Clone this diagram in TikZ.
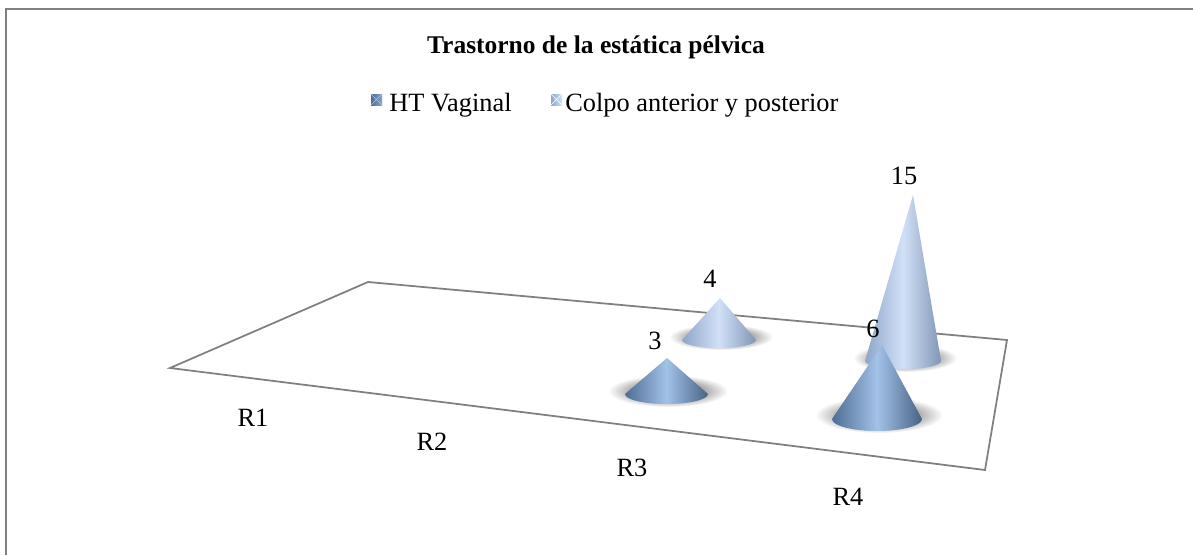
\documentclass[tikz,border=0pt]{standalone}
\usepackage{fontspec}
\setmainfont{Liberation Serif}
\definecolor{frmgray}{rgb}{0.5, 0.5, 0.5}
\definecolor{htdark}{rgb}{0.31, 0.43, 0.58}
\definecolor{htmid}{rgb}{0.52, 0.64, 0.8}
\definecolor{htlite}{rgb}{0.64, 0.76, 0.91}
\definecolor{cpdark}{rgb}{0.56, 0.65, 0.79}
\definecolor{cpmid}{rgb}{0.72, 0.8, 0.92}
\definecolor{cplite}{rgb}{0.82, 0.88, 0.97}

\begin{document}
\begin{tikzpicture}[x=0.02cm, y=-0.02cm]
        \useasboundingbox (0, 0) rectangle (1193, 555);
        \fontsize{15}{18}\selectfont

        \draw[color=frmgray, line width=1.1pt] (6, 555) -- (6, 9) -- (1193, 9); % marco

        \node[font=\fontsize{14.5}{17}\bfseries] (titulo) at (596, 47) {Trastorno de la estática pélvica};

        % leyenda
        \shade[left color=htdark, right color=htmid] (371, 94) rectangle (382, 105);
        \draw[color=htlite, line width=0.3pt] (371, 94) -- (382, 105) (371, 105) -- (382, 94);
        \node[anchor=base west, inner sep=0] (leyenda1) at (389, 111) {HT Vaginal};
        \shade[left color=cpdark, right color=cplite] (551, 94) rectangle (562, 105);
        \draw[color=white, line width=0.3pt] (551, 94) -- (562, 105) (551, 105) -- (562, 94);
        \node[anchor=base west, inner sep=0] (leyenda2) at (565, 111) {Colpo anterior y posterior};

        % piso
        \draw[color=frmgray, line width=1pt] (170, 368) -- (368, 282) -- (1007, 340) -- (985, 470) -- cycle;

        % sombras
        \shade[inner color=black!85, outer color=white] (721, 337) ellipse[x radius=52, y radius=13];
        \shade[inner color=black!85, outer color=white] (905, 358) ellipse[x radius=52, y radius=14];
        \shade[inner color=black!85, outer color=white] (668, 391) ellipse[x radius=60, y radius=16];
        \shade[inner color=black!85, outer color=white] (879, 415) ellipse[x radius=64, y radius=18];

        % conos traseros
        \shade[left color=cpdark, right color=cpdark!90!black, middle color=cplite] (720, 298) -- (682, 340) arc[start angle=180, end angle=0, x radius=37, y radius=8] -- cycle;
        \shade[left color=cpdark, right color=cpdark!90!black, middle color=cplite] (913, 195) -- (865, 361) arc[start angle=180, end angle=0, x radius=38, y radius=8] -- cycle;

        % conos delanteros
        \shade[left color=htdark, right color=htdark!90!black, middle color=htlite] (667, 358) -- (625, 394) arc[start angle=180, end angle=0, x radius=41.5, y radius=10] -- cycle;
        \shade[left color=htdark, right color=htdark!90!black, middle color=htlite] (882, 345) -- (832, 419) arc[start angle=180, end angle=0, x radius=45, y radius=12] -- cycle;

        % valores
        \node (v3) at (655, 341) {3};
        \node (v4) at (710, 279) {4};
        \node (v6) at (873, 329) {6};
        \node (v15) at (904, 176) {15};

        % categorias
        \foreach \r/\x/\y in {1/253/418, 2/432/442, 3/632/468, 4/848/497}
        \node (cat\r) at (\x, \y) {R\r};
\end{tikzpicture}
\end{document}
